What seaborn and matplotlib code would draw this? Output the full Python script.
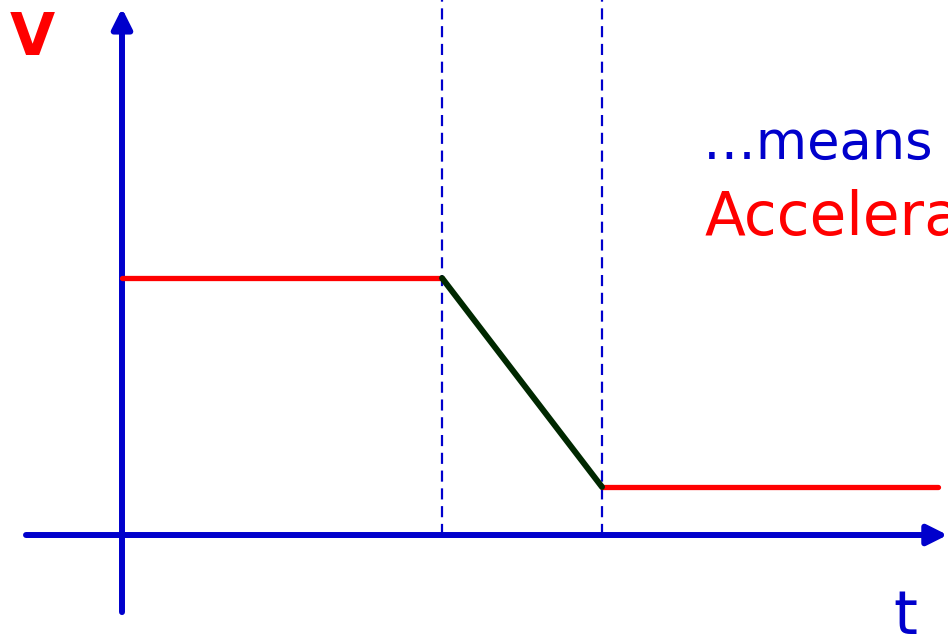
import matplotlib
matplotlib.use("Agg")
import matplotlib.pyplot as plt
import seaborn as sns
import pandas as pd

# velocity-time graph: constant, slowing down, constant again
t_const1 = [0, 10]
v_const1 = [10, 10]
t_slow = [10, 15]
v_slow = [10, 1.87]
t_const2 = [15, 25.5]
v_const2 = [1.87, 1.87]
t_marks = [10, 15]

blue = "#0000CC"
red = "#FF0000"
green = "#002800"

sns.set_style("white")
plt.rcParams['font.family'] = ['DejaVu Sans']

fig = plt.figure(figsize=(9.48, 6.39), dpi=100)
ax = fig.add_axes([0, 0, 1, 1])
ax.set_xlim(-3.8125, 25.8125)
ax.set_ylim(-4.047, 20.82)
ax.axis("off")

# axes with arrow heads
ax.annotate("", xy=(25.8, 0), xytext=(-3.0, 0),
            arrowprops=dict(arrowstyle="-|>", lw=4.3, color=blue, mutation_scale=30,
                            shrinkA=0, shrinkB=0))
ax.annotate("", xy=(0, 20.5), xytext=(0, -3.0),
            arrowprops=dict(arrowstyle="-|>", lw=4.3, color=blue, mutation_scale=30,
                            shrinkA=0, shrinkB=0))

# dashed time markers
for tm in t_marks:
    ax.plot([tm, tm], [0, 20.82], color=blue, lw=1.6, ls=(0, (5, 3)), zorder=1)

df1 = pd.DataFrame({"t": t_const1, "v": v_const1})
df2 = pd.DataFrame({"t": t_slow, "v": v_slow})
df3 = pd.DataFrame({"t": t_const2, "v": v_const2})
sns.lineplot(data=df1, x="t", y="v", ax=ax, color=red, lw=3.8, zorder=3)
sns.lineplot(data=df3, x="t", y="v", ax=ax, color=red, lw=3.8, zorder=3)
sns.lineplot(data=df2, x="t", y="v", ax=ax, color=green, lw=4.3, zorder=4,
             solid_capstyle="round")
ax.axis("off")

# labels
fig.text(10 / 948, 1 - 55 / 639, "V", color=red, fontsize=42, fontweight="bold",
         ha="left", va="baseline")
fig.text(893 / 948, 1 - 634 / 639, "t", color=blue, fontsize=44, ha="left", va="baseline")
fig.text(703 / 948, 1 - 160 / 639, "…means constant", color=blue, fontsize=38,
         ha="left", va="baseline")
fig.text(705 / 948, 1 - 235 / 639, "Acceleration", color=red, fontsize=43,
         ha="left", va="baseline")

fig.savefig("out.png", dpi=100)
